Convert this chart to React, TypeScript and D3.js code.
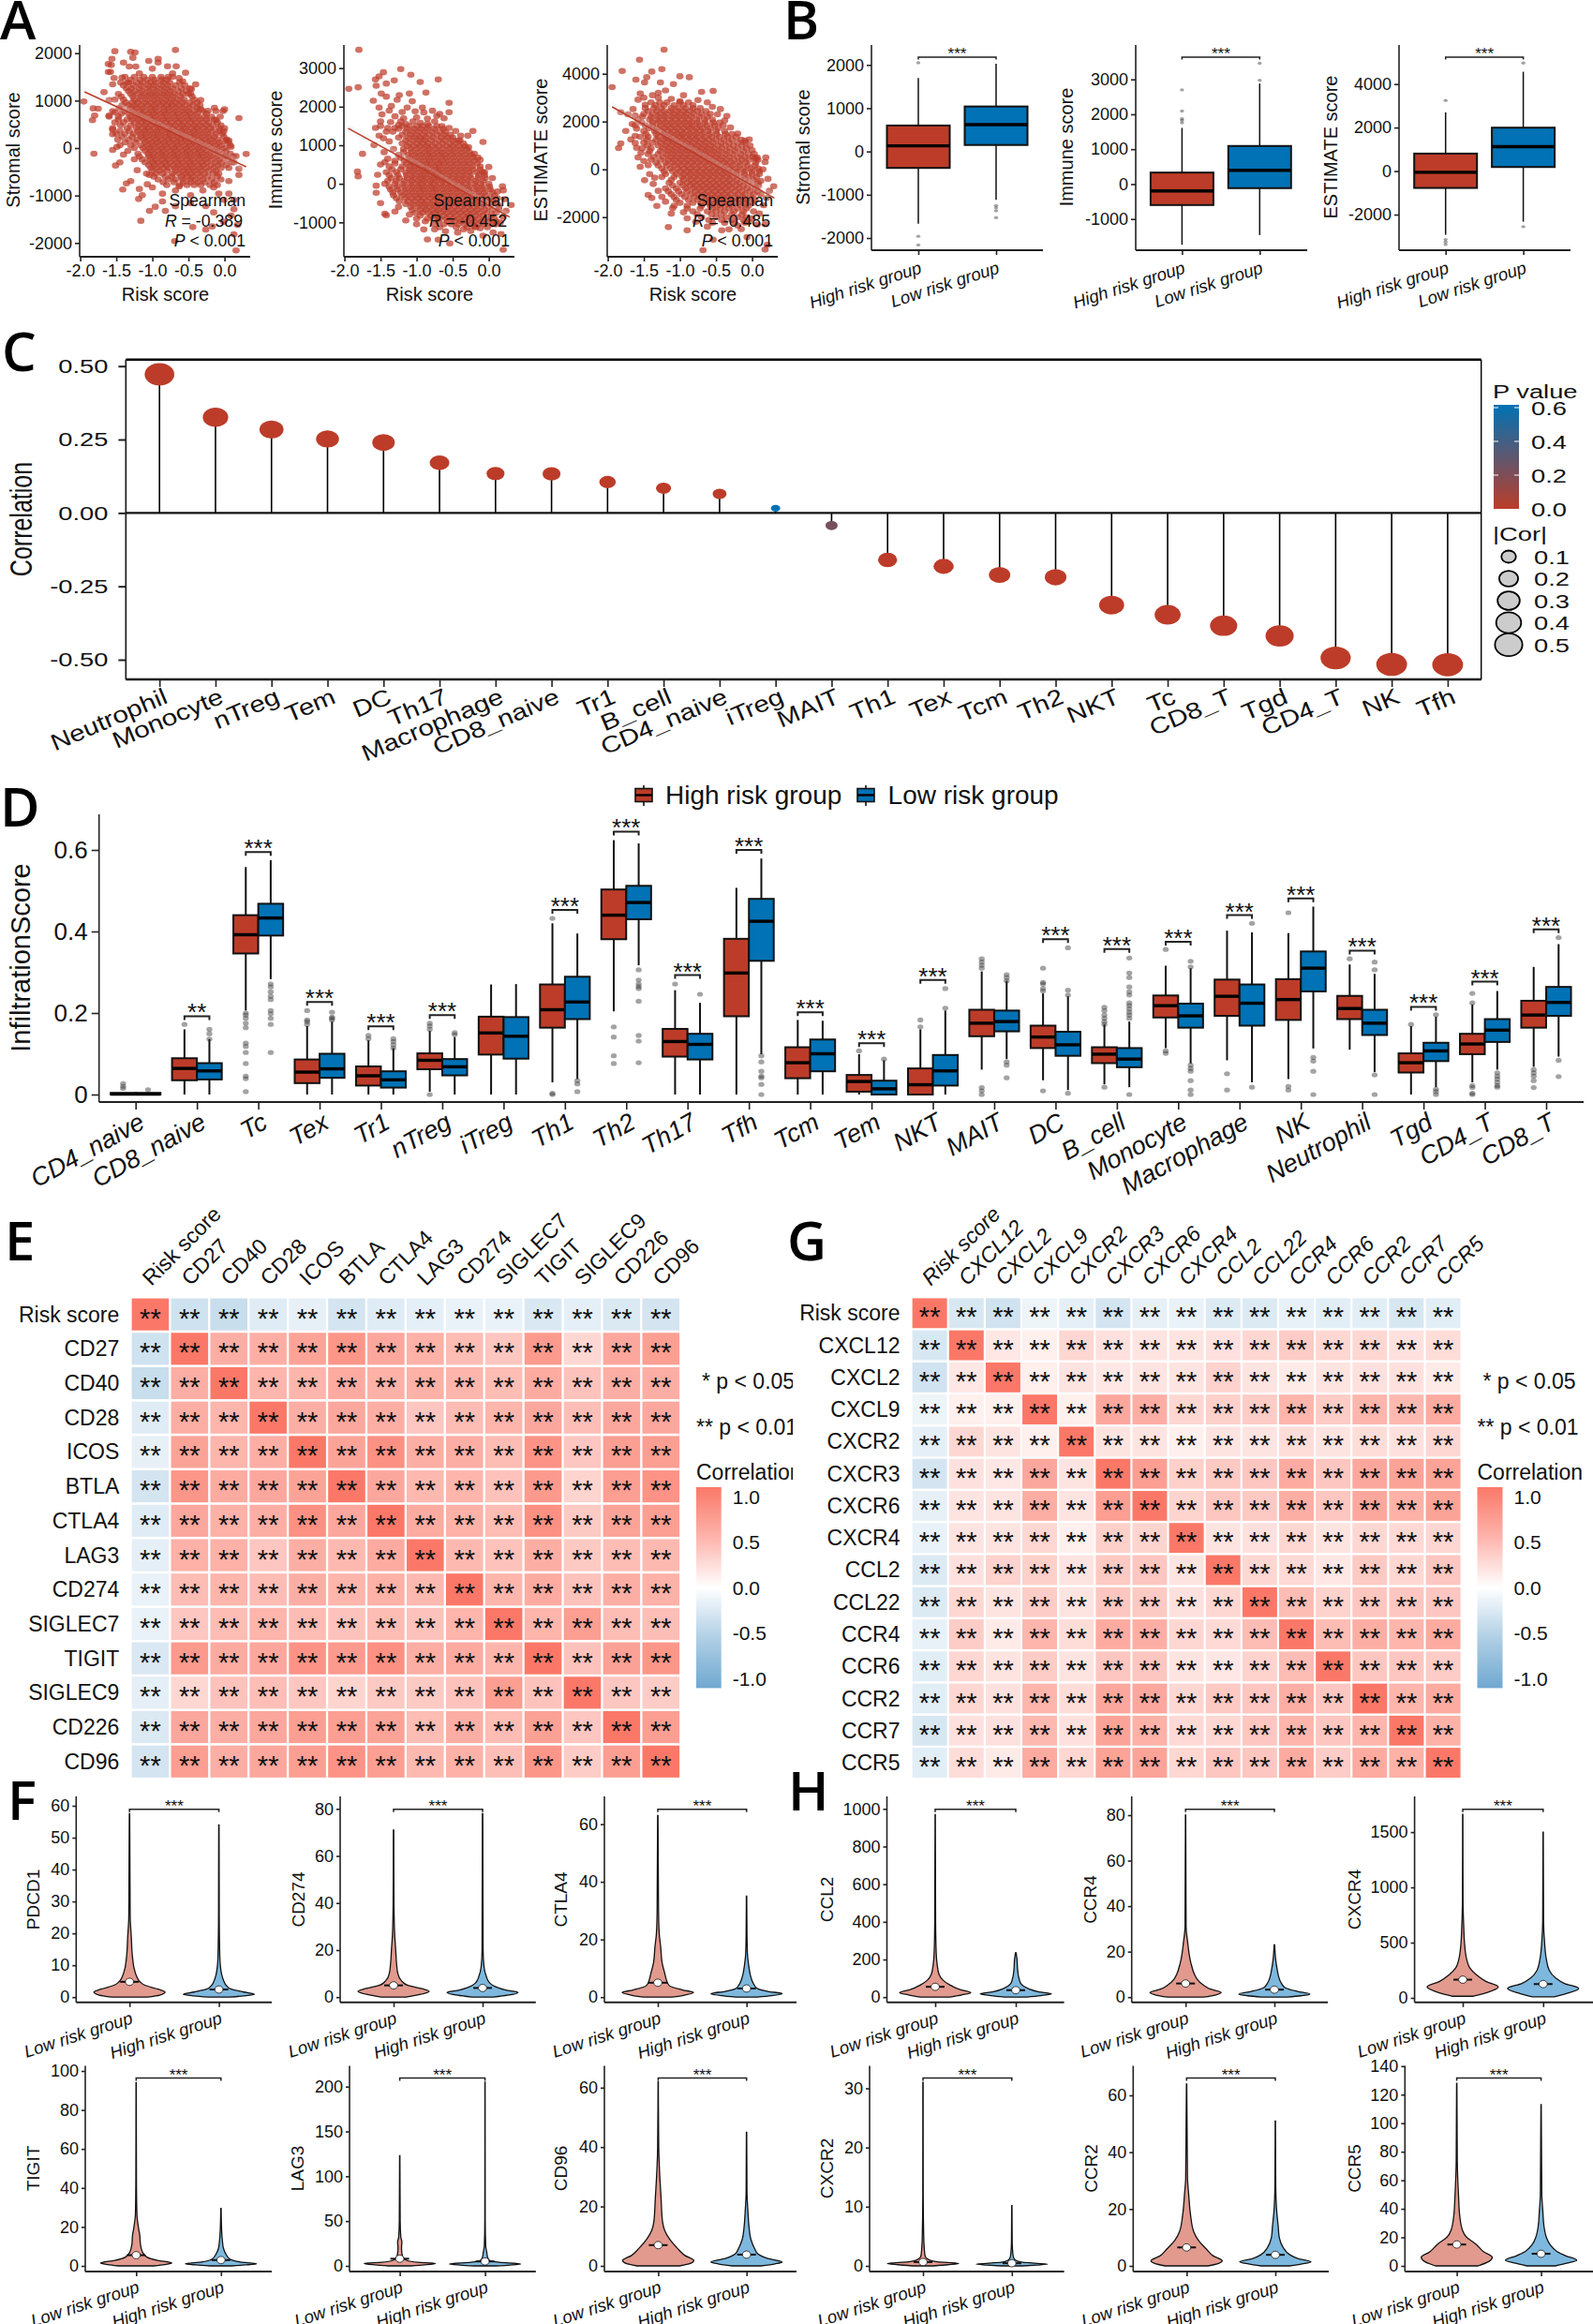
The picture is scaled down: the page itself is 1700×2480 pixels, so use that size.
import { useEffect, useRef } from "react"
import * as d3 from "d3"

const FONT = "'Liberation Sans', Arial, sans-serif"
const RED = "#BC3C29"
const BLUE = "#0072B5"

// ---- panel A : scatter points, [risk, score] for the loose points, rows [score, risks] for the dense cloud
const stromalLoose = [[-.68,2066],[-1.52,2040],[-1.3,2027],[-1.24,2013],[-1.56,1882],[-1.27,1902],[-1.05,1836],[-.92,1882],[-1.4,1803],[-1.61,1770],[-.92,1803],[-.79,1724],[-.67,1724],[-1.32,1717],[-1.23,1717],[-1.57,1750],[-1.61,1605],[-1.58,1605],[-1.42,1487],[-1.53,1474],[-.54,1586],[-.63,1474],[-1.67,1178],[-1.95,980],[-1.82,836],[-1.75,829],[-1.8,684],[-1.83,586],[.2,632],[-1.81,-118],[.3,-125],[-1.45,-303],[-1.51,-368],[-1.41,-875],[-1.3,-697],[-1.36,-744],[-1.19,-1073],[-1.18,-862],[-1,-829],[-1.14,-994],[-.63,-809],[-1.16,-1533],[-1.04,-1323],[-.96,-1237],[-.82,-1323],[-.68,-1224],[-.69,-1961],[.16,-2158],[.13,-1290],[-.01,-1553],[-.15,-1355],[-.44,-1665],[-.26,-1717],[-.17,-1652],[.13,-1816],[.18,-1619],[.09,-1421],[-.26,-1224],[-.47,-1158],[-.86,-1125],[-.08,-961],[.06,-961],[-.01,-1092],[.13,-1092],[.2,-434],[.13,-303],[.2,-566],[.06,-697],[.02,158],[.06,158],[0,816],[-.14,849],[-.33,816],[-.4,1342],[-.46,1243],
  [-1.55,1342],[-1.6,1013],[-1.52,750],[-1.6,684],[-1.55,388],[-1.55,290],[-1.49,26],[-1.55,-40],[-1.4,-138],[-1.25,-237],[-1.21,-467],[-1.04,-566],[-1.07,-763],[-.86,-961],[-.68,-895],[-.47,-994],[-.3,-895],[-.15,-829],[.02,-171],[.09,26],[.16,-171],[-.01,355],[-.12,586],[-.23,783],[-.33,1013],[-.47,1145],[-.58,1408],[-.72,1573],[-1,1671],[-1.18,1573],[-1.35,1375]]
const stromalCloud: [number, number[]][] = [
  [1500,[-1.38,-1.25,-1.12,-1,-.88,-.78,-.72]],
  [1440,[-1.3,-1.17,-1.07,-.97,-.87,-.8]],
  [1380,[-1.44,-1.33,-1.22,-1.13,-1.03,-.95,-.85,-.76,-.62]],
  [1320,[-1.4,-1.26,-1.16,-1.06,-.98,-.88,-.79,-.68,-.55]],
  [1260,[-1.36,-1.29,-1.18,-1.08,-.99,-.9,-.81,-.72,-.6,-.48]],
  [1200,[-1.33,-1.24,-1.14,-1.04,-.94,-.84,-.75,-.64,-.53]],
  [1140,[-1.47,-1.3,-1.21,-1.12,-1.03,-.95,-.86,-.78,-.69,-.58,-.5]],
  [1085,[-1.43,-1.27,-1.16,-1.07,-.98,-.89,-.8,-.71,-.61,-.45]],
  [1020,[-1.52,-1.4,-1.25,-1.17,-1.08,-.99,-.91,-.82,-.74,-.65,-.56,-.42]],
  [960,[-1.37,-1.28,-1.2,-1.1,-1.01,-.92,-.84,-.75,-.67,-.58,-.48,-.38]],
  [900,[-1.42,-1.33,-1.24,-1.15,-1.06,-.97,-.88,-.8,-.72,-.63,-.54,-.44,-.34]],
  [845,[-1.46,-1.3,-1.22,-1.13,-1.03,-.95,-.85,-.77,-.68,-.59,-.49,-.38]],
  [780,[-1.55,-1.38,-1.27,-1.18,-1.1,-1.01,-.93,-.84,-.76,-.67,-.58,-.5,-.41,-.3,-.12,-.02]],
  [725,[-1.43,-1.33,-1.24,-1.15,-1.06,-.98,-.89,-.81,-.72,-.64,-.55,-.47,-.38,-.25]],
  [660,[-1.6,-1.47,-1.3,-1.21,-1.13,-1.04,-.96,-.87,-.79,-.7,-.62,-.53,-.45,-.36,-.27,-.18,-.06]],
  [600,[-1.47,-1.35,-1.28,-1.19,-1.11,-1.02,-.94,-.85,-.77,-.68,-.6,-.51,-.43,-.34,-.25,-.14]],
  [540,[-1.52,-1.4,-1.25,-1.16,-1.08,-.99,-.91,-.82,-.74,-.65,-.57,-.48,-.4,-.31,-.22,-.1]],
  [480,[-1.44,-1.3,-1.19,-1.1,-1.02,-.93,-.85,-.76,-.68,-.59,-.51,-.42,-.34,-.25,-.16,-.05]],
  [420,[-1.55,-1.35,-1.22,-1.13,-1.05,-.96,-.88,-.79,-.71,-.62,-.54,-.45,-.37,-.28,-.19,-.08,0]],
  [360,[-1.45,-1.32,-1.2,-1.11,-1.03,-.94,-.86,-.77,-.69,-.6,-.52,-.43,-.35,-.26,-.17,-.07]],
  [300,[-1.5,-1.38,-1.26,-1.17,-1.09,-1,-.92,-.83,-.75,-.66,-.58,-.49,-.41,-.32,-.23,-.12,-.03]],
  [240,[-1.42,-1.28,-1.16,-1.08,-.99,-.91,-.82,-.74,-.65,-.57,-.48,-.4,-.31,-.22,-.14,-.01]],
  [180,[-1.48,-1.33,-1.21,-1.12,-1.04,-.95,-.87,-.78,-.7,-.61,-.53,-.44,-.36,-.27,-.18,-.09,.03]],
  [120,[-1.38,-1.24,-1.1,-1.01,-.93,-.84,-.76,-.67,-.59,-.5,-.42,-.33,-.25,-.16,-.07,.05]],
  [60,[-1.45,-1.3,-1.16,-1.07,-.99,-.9,-.82,-.73,-.65,-.56,-.48,-.39,-.31,-.22,-.13,-.04,.08]],
  [0,[-1.25,-1.13,-1.04,-.96,-.87,-.79,-.7,-.62,-.53,-.45,-.36,-.28,-.19,-.1,0]],
  [-60,[-1.34,-1.1,-1.02,-.93,-.85,-.76,-.68,-.59,-.51,-.42,-.34,-.25,-.16,-.08,.02]],
  [-120,[-1.2,-1.06,-.98,-.89,-.81,-.72,-.64,-.55,-.47,-.38,-.3,-.21,-.12,-.03,.08]],
  [-180,[-1.18,-1.05,-.97,-.88,-.8,-.71,-.63,-.54,-.46,-.37,-.29,-.2,-.1,0,.12]],
  [-240,[-1.14,-1.03,-.95,-.86,-.78,-.69,-.61,-.52,-.44,-.35,-.26,-.17,-.07,.05]],
  [-300,[-1.1,-1,-.92,-.83,-.75,-.66,-.58,-.49,-.41,-.32,-.24,-.13,-.04,.1]],
  [-360,[-1.05,-.97,-.88,-.8,-.71,-.63,-.54,-.46,-.37,-.29,-.19,-.09,.02]],
  [-420,[-1.02,-.94,-.85,-.77,-.68,-.6,-.51,-.43,-.34,-.25,-.15,-.05,.06]],
  [-480,[-1,-.9,-.8,-.68,-.58,-.5,-.41,-.32,-.22,-.12]],
  [-540,[-1.08,-.95,-.86,-.72,-.63,-.54,-.46,-.37,-.28,-.16,-.08]],
  [-600,[-.98,-.82,-.73,-.6,-.52,-.44,-.34,-.24,-.1]],
  [-660,[-.92,-.78,-.68,-.58,-.48,-.4,-.3,-.18,-.05]],
  [-720,[-.85,-.7,-.57,-.47,-.37,-.27,-.14]],
  [-780,[-.8,-.62,-.52,-.42,-.33,-.2,-.1]],
]
const immuneLoose = [[-1.8,3475],[-1.94,2462],[-1.81,2503],[-1.22,2973],[-1.08,2827],[-.7,2705],[-.95,2640],[-1.46,2892],[-1.52,2786],[-1.57,2705],[-1.31,2681],[-1.56,2543],[-1.42,2600],[-1.1,2340],[-.87,2365],[-.55,2098],[-1.6,2155],[-1.49,2340],[-1.42,2260],[-1.24,2300],[-1.27,2180],[-1.06,2140],[-1.52,1976],[-1.35,2017],[-1.13,1976],[-.92,1976],[-.78,1895],[-.55,1855],[-.68,1814],[-1.48,1800],[-1.3,1750],[-1.18,1700],[-1.0,1720],[-.85,1690],[-.22,1370],[-.46,1370],[-.08,1085],[-.39,1247],[-.29,1247],[-1.57,1450],[-1.59,1004],[-1.75,778],[-1.82,316],[-1.81,194],[-1.54,235],[-1.56,-49],[-1.56,-235],[-1.44,-778],[-1.42,-818],[.31,-551],[.19,-65],[.2,-170],[.2,-1709],[.17,-1304],[.06,-1264],[-.54,-1547],[-.7,-1450],[-.85,-1442],[-.9,-1183],[-.08,-1345],[-.25,-1223],[-.43,-1264],[0,437],[-.15,680],[-1.5,1620],[-1.4,1450],[-1.25,1530],[-.6,-1230],[-.2,-1100],[.1,-1050],
  [-1.5,1500],[-1.42,1350],[-1.36,1600],[-1.3,1450],[-1.22,1620],[-1.15,1550],[-1.05,1620],[-.95,1580],[-.85,1560],[-.75,1620],[-.65,1500],[-.55,1450],[-.62,1700],[-.72,1760],[-.9,1850],[-1.02,1880],[-1.2,1860],[-1.38,1900],[-1.46,1180],[-1.52,1250],[-1.38,1100],[-1.32,900],[-1.45,820],[-1.4,650],[-1.5,500],[-1.44,560],[-.42,1120],[-.28,950],[-.2,780],[-.12,620],[-.06,300],[.05,150],[.12,-200],[.22,-400],[.24,-700],[.2,-850],[.16,-1000],[-.12,-1150],[-.35,-1180],[-.75,-1180],[-1.1,-800],[-1.15,-950],[-1,-1050],[-1.3,-720],[-1.5,-500]]
const immuneCloud: [number, number[]][] = [
  [1500,[-1.2,-1.1,-1,-.92,-.83,-.72]],
  [1425,[-1.25,-1.13,-1.03,-.94,-.85,-.75,-.63]],
  [1350,[-1.33,-1.15,-1.06,-.97,-.88,-.78,-.68,-.6]],
  [1275,[-1.2,-1.09,-1,-.91,-.82,-.72,-.62,-.53]],
  [1200,[-1.25,-1.12,-1.03,-.95,-.87,-.77,-.66,-.57,-.5]],
  [1125,[-1.15,-1.05,-.96,-.88,-.79,-.69,-.6,-.5,-.4]],
  [1050,[-1.2,-1.1,-1,-.92,-.84,-.74,-.64,-.54,-.45,-.35]],
  [975,[-1.13,-1.04,-.95,-.86,-.78,-.69,-.59,-.5,-.41,-.33]],
  [900,[-1.18,-1.08,-.99,-.9,-.82,-.73,-.64,-.55,-.47,-.38,-.3]],
  [825,[-1.18,-1.07,-.98,-.89,-.81,-.72,-.64,-.55,-.46,-.37,-.27]],
  [750,[-1.25,-1.12,-1.03,-.94,-.85,-.77,-.68,-.6,-.51,-.42,-.33,-.24]],
  [675,[-1.22,-1.1,-1.01,-.92,-.83,-.75,-.66,-.58,-.49,-.4,-.31,-.22]],
  [600,[-1.3,-1.17,-1.08,-.99,-.9,-.82,-.73,-.65,-.56,-.47,-.38,-.29,-.2]],
  [525,[-1.3,-1.14,-1.05,-.96,-.87,-.79,-.7,-.62,-.53,-.44,-.35,-.26,-.16]],
  [450,[-1.38,-1.2,-1.1,-1.02,-.93,-.85,-.76,-.68,-.59,-.5,-.41,-.32,-.23,-.12]],
  [375,[-1.34,-1.22,-1.1,-1.01,-.92,-.84,-.75,-.67,-.58,-.49,-.4,-.31,-.22,-.12]],
  [300,[-1.42,-1.28,-1.15,-1.06,-.97,-.88,-.8,-.71,-.63,-.54,-.45,-.36,-.27,-.17,-.08]],
  [225,[-1.38,-1.26,-1.14,-1.05,-.96,-.88,-.79,-.71,-.62,-.53,-.44,-.35,-.26,-.14,-.06]],
  [150,[-1.35,-1.24,-1.13,-1.04,-.95,-.87,-.78,-.7,-.61,-.52,-.43,-.34,-.25,-.15,-.05]],
  [75,[-1.4,-1.28,-1.17,-1.07,-.98,-.9,-.81,-.73,-.64,-.55,-.46,-.37,-.28,-.18,-.08]],
  [0,[-1.44,-1.3,-1.19,-1.09,-1,-.92,-.83,-.75,-.66,-.57,-.48,-.39,-.3,-.2,-.11,0]],
  [-75,[-1.38,-1.27,-1.17,-1.07,-.98,-.9,-.81,-.73,-.64,-.55,-.46,-.37,-.28,-.18,-.09,.01]],
  [-150,[-1.36,-1.26,-1.15,-1.06,-.97,-.89,-.8,-.72,-.63,-.54,-.45,-.36,-.27,-.17,-.08,.02]],
  [-225,[-1.33,-1.22,-1.13,-1.04,-.95,-.87,-.78,-.7,-.61,-.52,-.43,-.34,-.25,-.15,-.06,.05]],
  [-300,[-1.32,-1.2,-1.11,-1.02,-.94,-.85,-.77,-.68,-.59,-.5,-.41,-.32,-.23,-.13,-.04,.08]],
  [-375,[-1.28,-1.16,-1.07,-.98,-.9,-.81,-.73,-.64,-.55,-.46,-.37,-.28,-.19,-.09,.02,.12]],
  [-450,[-1.24,-1.12,-1.03,-.94,-.86,-.77,-.69,-.6,-.51,-.42,-.33,-.24,-.15,-.05,.06]],
  [-525,[-1.15,-1.05,-.96,-.88,-.79,-.71,-.62,-.53,-.44,-.35,-.26,-.17,-.07,.04,.12]],
  [-600,[-1.25,-1.08,-.98,-.89,-.81,-.72,-.64,-.55,-.46,-.37,-.28,-.19,-.1,0,.14]],
  [-675,[-1.06,-.95,-.87,-.78,-.7,-.61,-.52,-.43,-.34,-.25,-.16,-.06,.05,.14]],
  [-750,[-1.02,-.92,-.84,-.75,-.67,-.58,-.49,-.4,-.31,-.22,-.13,-.03,.1]],
  [-825,[-.95,-.8,-.72,-.63,-.54,-.45,-.36,-.27,-.18,-.08,.04]],
  [-900,[-1,-.85,-.76,-.68,-.59,-.5,-.41,-.32,-.23,-.14,-.04,.08]],
  [-975,[-.88,-.7,-.57,-.47,-.38,-.29,-.2,-.1,0,.1]],
  [-1050,[-.75,-.62,-.52,-.42,-.33,-.24,-.15,-.06,.05]],
  [-1125,[-.68,-.45,-.3,-.18,-.02]],
]
const estimateLoose = [[-1.22,5006],[-1.56,4587],[-1.8,4117],[-1.25,4195],[-1.39,4091],[-1.61,3751],[-1.94,3437],[-1.46,3855],[-1.49,3633],[-1,3895],[-.87,3855],[-1.09,3568],[-1.27,3633],[-.54,3280],[-.7,3241],[-1.55,3176],[-1.58,2914],[-.35,2235],[-.44,2522],[-.55,2614],[-.04,1255],[-1.75,1608],[-1.82,2392],[-1.65,2522],[-1.82,1085],[-1.85,889],[-1.54,693],[-1.55,105],[-1.44,170],[-1.49,-457],[-1.37,-614],[-1.44,-1072],[-1.39,-1202],[-1.32,-1529],[-1.16,-2418],[-.9,-2549],[-.68,-3385],[-.54,-2941],[-.32,-2509],[.18,-3359],[.21,-3163],[.3,-706],[.19,497],[.07,497],[.12,-484],[-.07,-2836],[.07,-2313],[.18,-2300],[-1.5,3000],[-1.38,3100],[-1.3,3200],[-1.2,3300],[-.95,3100],[-.05,-2200],[-.15,-2500],
  [-1.72,2300],[-1.62,2250],[-1.66,1900],[-1.6,1700],[-1.62,1400],[-1.68,1250],[-1.62,1100],[-1.6,900],[-1.58,500],[-1.5,350],[-1.42,-200],[-1.35,-350],[-1.3,-900],[-1.25,-1150],[-1.2,-1350],[-1.1,-1620],[-1.12,-1850],[-.95,-1800],[-.9,-2050],[-.78,-2200],[-.62,-2400],[-.42,-2550],[-.2,-2350],[0,-2050],[.1,-1850],[.16,-1500],[.2,-1200],[.24,-900],[.22,-400],[.15,0],[.18,300],[.05,450],[0,800],[-.1,1200],[-.2,1500],[-.3,1750],[-.38,2050],[-.48,2300],[-.62,2800],[-.75,2900],[-1,2850],[-1.12,2950],[-1.3,3000],[-1.48,2700]]
const estimateCloud: [number, number[]][] = [
  [2800,[-1.4,-1.28,-1.18,-1,-.88]],
  [2680,[-1.34,-1.22,-1.08,-.95,-.82]],
  [2560,[-1.48,-1.36,-1.26,-1.12,-1.02,-.92,-.82,-.72]],
  [2440,[-1.44,-1.32,-1.22,-1.13,-1.04,-.95,-.86,-.76,-.64]],
  [2320,[-1.5,-1.38,-1.28,-1.19,-1.09,-1,-.91,-.81,-.7,-.58]],
  [2200,[-1.52,-1.4,-1.3,-1.21,-1.11,-1.02,-.93,-.84,-.73,-.62]],
  [2080,[-1.58,-1.42,-1.32,-1.23,-1.14,-1.05,-.96,-.87,-.77,-.66,-.55]],
  [1960,[-1.53,-1.38,-1.29,-1.2,-1.11,-1.02,-.93,-.84,-.75,-.65,-.54,-.45]],
  [1840,[-1.62,-1.48,-1.38,-1.27,-1.18,-1.09,-1,-.91,-.83,-.73,-.63,-.52,-.4]],
  [1720,[-1.43,-1.32,-1.22,-1.13,-1.04,-.95,-.86,-.77,-.68,-.58,-.47]],
  [1600,[-1.5,-1.35,-1.25,-1.16,-1.07,-.98,-.89,-.8,-.71,-.61,-.5,-.38]],
  [1480,[-1.47,-1.33,-1.22,-1.13,-1.04,-.96,-.87,-.78,-.69,-.59,-.49,-.37,-.28]],
  [1360,[-1.55,-1.44,-1.3,-1.2,-1.11,-1.02,-.94,-.85,-.76,-.66,-.56,-.45,-.34,-.22]],
  [1240,[-1.46,-1.33,-1.23,-1.14,-1.05,-.96,-.87,-.78,-.69,-.6,-.5,-.39,-.28,-.15]],
  [1120,[-1.5,-1.38,-1.27,-1.18,-1.09,-1,-.91,-.82,-.73,-.64,-.54,-.43,-.32,-.2,-.1]],
  [1000,[-1.45,-1.3,-1.2,-1.11,-1.02,-.93,-.84,-.75,-.66,-.57,-.47,-.37,-.26,-.14,-.03]],
  [880,[-1.52,-1.4,-1.24,-1.15,-1.06,-.97,-.88,-.79,-.7,-.61,-.52,-.42,-.31,-.2,-.08]],
  [760,[-1.42,-1.27,-1.17,-1.08,-.99,-.9,-.81,-.72,-.63,-.54,-.45,-.35,-.24,-.12]],
  [640,[-1.44,-1.3,-1.19,-1.1,-1.01,-.92,-.83,-.74,-.65,-.56,-.47,-.37,-.27,-.16,-.05,.03]],
  [520,[-1.36,-1.23,-1.13,-1.04,-.95,-.86,-.77,-.68,-.59,-.5,-.41,-.31,-.2,-.1,.01]],
  [400,[-1.4,-1.27,-1.16,-1.07,-.98,-.89,-.8,-.71,-.62,-.53,-.44,-.35,-.25,-.14,-.04,.08]],
  [280,[-1.33,-1.2,-1.1,-1.01,-.92,-.83,-.74,-.65,-.56,-.47,-.38,-.29,-.19,-.09,.05]],
  [160,[-1.3,-1.18,-1.08,-.99,-.9,-.81,-.72,-.63,-.54,-.45,-.36,-.27,-.17,-.06,.04]],
  [40,[-1.25,-1.13,-1.03,-.94,-.85,-.76,-.67,-.58,-.49,-.4,-.31,-.22,-.12,-.02,.08]],
  [-80,[-1.22,-1.1,-1,-.91,-.83,-.74,-.65,-.56,-.47,-.38,-.29,-.2,-.1,0,.1]],
  [-200,[-1.2,-1.05,-.95,-.86,-.77,-.68,-.59,-.5,-.41,-.32,-.22,-.11,0,.1]],
  [-320,[-1.25,-1.08,-.97,-.88,-.79,-.7,-.61,-.52,-.43,-.34,-.25,-.15,-.05,.06]],
  [-440,[-1.12,-.95,-.85,-.76,-.67,-.58,-.49,-.4,-.31,-.21,-.1,.02]],
  [-560,[-1.15,-1,-.9,-.81,-.72,-.63,-.54,-.45,-.36,-.27,-.17,-.06,.08]],
  [-680,[-1.1,-.96,-.86,-.77,-.68,-.59,-.5,-.41,-.32,-.22,-.12,0,.09]],
  [-800,[-1.2,-1.05,-.92,-.82,-.73,-.64,-.55,-.46,-.37,-.28,-.18,-.07,.05]],
  [-920,[-1.16,-1.02,-.9,-.79,-.7,-.61,-.52,-.43,-.34,-.24,-.14,-.03,.08]],
  [-1040,[-1.12,-.98,-.85,-.75,-.66,-.57,-.48,-.39,-.3,-.2,-.1,.02,.12]],
  [-1160,[-1.08,-.93,-.8,-.7,-.6,-.51,-.42,-.33,-.23,-.13,-.02]],
  [-1280,[-1.05,-.88,-.75,-.64,-.55,-.46,-.37,-.28,-.18,-.08,.04]],
  [-1400,[-1,-.82,-.7,-.6,-.5,-.4,-.3,-.2,-.1,0]],
  [-1520,[-1.08,-.9,-.7,-.58,-.48,-.38,-.28,-.15,-.05]],
  [-1640,[-.9,-.72,-.55,-.44,-.32,-.2,-.08]],
  [-1760,[-.82,-.62,-.5,-.38,-.25,-.12,.02]],
  [-1880,[-.76,-.56,-.43,-.28,-.14]],
  [-2000,[-.7,-.5,-.36,-.2,-.08]],
  [-2120,[-.6,-.42,-.28,-.12]],
  [-2240,[-.55,-.38,-.24,-.1]],
]
const stromalFit = [[-1.94,1185,110],[-.8,450,35],[.3,-395,110]]
const immuneFit = [[-1.95,1440,110],[-.8,370,35],[.29,-860,110]]
const estimateFit = [[-1.94,2615,200],[-.8,820,70],[.31,-1204,200]]

// ---- panel B : [q1, median, q3, whisker low, whisker high]
const stromalBoxes = [[-380,130,600,-1670,1700],[150,620,1040,-1120,2030]]
const stromalOut = [[2050,-1960,-2160],[-1250,-1300,-1370,-1530]]
const immuneBoxes = [[-600,-197,330,-1736,1610],[-116,394,1092,-1459,2880]]
const immuneOut = [[2700,2094,1870,1825,1754],[2970,3463]]
const estimateBoxes = [[-775,-57,804,-2930,2700],[187,1120,1996,-2326,4565]]
const estimateOut = [[3245,-3145,-3260,-3375],[-2556,4967]]

// ---- panel C
const lolliNames = ["Neutrophil","Monocyte","nTreg","Tem","DC","Th17","Macrophage","CD8_naive","Tr1","B_cell","CD4_naive","iTreg","MAIT","Th1","Tex","Tcm","Th2","NKT","Tc","CD8_T","Tgd","CD4_T","NK","Tfh"]
const lolliCor = [.472,.326,.284,.252,.24,.171,.134,.133,.105,.084,.065,.016,-.043,-.16,-.182,-.211,-.219,-.314,-.347,-.384,-.419,-.494,-.516,-.517]
const lolliP = [0,0,0,0,0,0,0,0,0,0,0,.6,.22,0,0,0,0,0,0,0,0,0,0,0]
const pTicks = [0,.2,.4,.6]
const corLegend = [.1,.2,.3,.4,.5]

// ---- panel D
const cellNames = ["CD4_naive","CD8_naive","Tc","Tex","Tr1","nTreg","iTreg","Th1","Th2","Th17","Tfh","Tcm","Tem","NKT","MAIT","DC","B_cell","Monocyte","Macrophage","NK","Neutrophil","Tgd","CD4_T","CD8_T"]
const highBoxes = [[0,.001,.004,0,.004],[.035,.064,.089,0,.16],[.346,.392,.44,.206,.558],[.028,.055,.086,0,.168],[.022,.046,.069,0,.133],[.062,.084,.101,.007,.156],[.098,.151,.191,0,.27],[.164,.208,.27,.03,.42],[.381,.44,.503,.204,.624],[.093,.13,.161,0,.256],[.192,.298,.382,0,.507],[.04,.078,.116,0,.183],[.007,.032,.048,0,.099],[0,.024,.064,0,.16],[.143,.175,.208,.061,.302],[.114,.141,.169,.035,.248],[.077,.099,.116,.025,.172],[.189,.218,.243,.114,.316],[.193,.241,.282,.084,.402],[.183,.233,.283,.038,.396],[.185,.211,.242,.11,.319],[.054,.078,.101,0,.168],[.099,.124,.149,.03,.221],[.164,.195,.23,.068,.313]]
const lowBoxes = [[0,.001,.004,0,.004],[.037,.058,.077,0,.136],[.39,.433,.468,.283,.575],[.041,.063,.1,0,.179],[.017,.036,.057,0,.114],[.047,.068,.087,0,.141],[.088,.143,.19,0,.271],[.185,.227,.289,.038,.395],[.43,.471,.512,.317,.616],[.086,.123,.149,0,.225],[.328,.425,.48,.099,.579],[.057,.1,.135,0,.181],[0,.014,.034,0,.084],[.022,.058,.097,0,.206],[.155,.179,.206,.087,.279],[.095,.122,.154,.011,.241],[.067,.087,.114,.018,.179],[.164,.193,.223,.076,.31],[.169,.224,.27,.03,.398],[.253,.31,.351,.113,.461],[.146,.175,.208,.055,.296],[.082,.107,.127,.018,.191],[.129,.158,.185,.061,.254],[.193,.226,.264,.093,.369]]
const highOut = [[.027,.02,.015],[.172],[.2,.195,.187,.175,.164,.126,.118,.103,.076,.045,.039,.007],[.206,.183,.179,.172],[.145,.137],[.175,.168,.16,0],[],[.432,.003,0],[.166,.141,.095,.076],[.271],[],[],[.107],[.183,.166],[.333,.325,.317,.31,.017,.009,0],[.31,.275,.271,.26,.254,.009],[.214,.206,.195,.187,.179,.172,.018],[.356,.107,.101],[.051,.011],[.446,.02,.011],[.333],[.172],[.248,.225,.022,.017,.003,0],[.061,.053,.045,.034,.017]]
const lowOut = [[.012],[.16,.149,.136],[.271,.264,.252,.241,.233,.206,.198,.187,.172,.103],[.202,.19,.187,.183],[.137,.13,.122,.114],[.152,.147],[],[.034,.026,.007],[.306,.281,.271,.265,.26,.229,.145,.131,.078],[.246],[.095,.08,.057,.045,.041,.025,0],[],[.087],[.26,.212],[.294,.287,.279,.08,.072,.041],[.36,.256,.244,.003],[.335,.298,.287,.264,.252,.244,.225,.218,.21,.202,.195,.187,0],[.327,.313,.072,.064,.057,.034,.011,0],[.42,.018],[.091,.082,.057,0],[.325,.306,.048,0],[.196,.013,.007,0],[.053,.045,.038,.03,.022,.018],[.385,.084,.044]]
const cellSig = ["","**","***","***","***","***","","***","***","***","***","***","***","***","","***","***","***","***","***","***","***","***","***"]
const cellBracket = [0,.192,.595,.227,.167,.195,0,.453,.645,.293,.6,.202,.126,.281,0,.381,.357,.375,.44,.481,.353,.215,.277,.405]

// ---- panels E and G
const immuneGenes = ["Risk score","CD27","CD40","CD28","ICOS","BTLA","CTLA4","LAG3","CD274","SIGLEC7","TIGIT","SIGLEC9","CD226","CD96"]
const immuneCor = [
  [1,-.33,-.38,-.22,-.17,-.3,-.22,-.18,-.15,-.15,-.26,-.18,-.25,-.3],
  [-.33,1,.6,.6,.68,.78,.65,.58,.5,.42,.75,.3,.65,.72],
  [-.38,.6,1,.55,.55,.62,.58,.58,.55,.5,.62,.45,.6,.6],
  [-.22,.6,.55,1,.6,.65,.6,.42,.5,.55,.65,.48,.65,.65],
  [-.17,.68,.55,.6,1,.68,.82,.6,.6,.5,.8,.42,.72,.72],
  [-.3,.78,.62,.65,.68,1,.65,.52,.55,.45,.75,.32,.72,.8],
  [-.22,.65,.58,.6,.82,.65,1,.62,.58,.5,.82,.4,.68,.72],
  [-.18,.58,.58,.42,.6,.52,.62,1,.52,.45,.6,.4,.5,.52],
  [-.15,.5,.55,.5,.6,.55,.58,.52,1,.55,.62,.45,.6,.58],
  [-.15,.42,.5,.55,.5,.45,.5,.45,.55,1,.55,.72,.5,.48],
  [-.26,.75,.62,.65,.8,.75,.82,.6,.62,.55,1,.45,.7,.78],
  [-.18,.3,.45,.48,.42,.32,.4,.4,.45,.72,.45,1,.42,.38],
  [-.25,.65,.6,.65,.72,.72,.68,.5,.6,.5,.7,.42,1,.72],
  [-.3,.72,.6,.65,.72,.8,.72,.52,.58,.48,.78,.38,.72,1],
]
const chemoGenes = ["Risk score","CXCL12","CXCL2","CXCL9","CXCR2","CXCR3","CXCR6","CXCR4","CCL2","CCL22","CCR4","CCR6","CCR2","CCR7","CCR5"]
const chemoCor = [
  [1,-.27,-.32,-.12,-.18,-.3,-.17,-.15,-.24,-.24,-.16,-.2,-.2,-.28,-.2],
  [-.27,1,.18,.12,.3,.22,.2,.2,.22,.3,.38,.3,.3,.22,.25],
  [-.32,.18,1,.12,.2,.18,.2,.2,.33,.2,.15,.2,.22,.22,.15],
  [-.12,.12,.12,1,.12,.65,.6,.3,.35,.38,.55,.38,.55,.52,.62],
  [-.18,.3,.2,.12,1,.2,.2,.12,.2,.2,.25,.2,.25,.22,.3],
  [-.3,.22,.18,.65,.2,1,.72,.35,.4,.42,.62,.42,.65,.68,.68],
  [-.17,.2,.2,.6,.2,.72,1,.32,.42,.4,.6,.42,.65,.58,.68],
  [-.15,.2,.2,.3,.12,.35,.32,1,.2,.22,.3,.2,.3,.28,.3],
  [-.24,.22,.33,.35,.2,.4,.42,.2,1,.3,.28,.18,.4,.3,.42],
  [-.24,.3,.2,.38,.2,.42,.4,.22,.3,1,.5,.33,.42,.42,.42],
  [-.16,.38,.15,.55,.25,.62,.6,.3,.28,.5,1,.5,.6,.55,.62],
  [-.2,.3,.2,.38,.2,.42,.42,.2,.18,.33,.5,1,.42,.42,.38],
  [-.2,.3,.22,.55,.25,.65,.65,.3,.4,.42,.6,.42,1,.55,.62],
  [-.28,.22,.22,.52,.22,.68,.58,.28,.3,.42,.55,.42,.55,1,.58],
  [-.2,.25,.15,.62,.3,.68,.68,.3,.42,.42,.62,.38,.62,.58,1],
]
const heatTicks = [-1,-.5,0,.5,1]

// ---- panels F and H : violin outlines as [value, relative density]
const pdcd1Low = [[0,.5],[.6,.85],[1.6,1],[2.5,.8],[3.8,.42],[5,.28],[6.5,.2],[9,.13],[13,.08],[19,.05],[25,.02],[35,.015],[57.5,.005]]
const pdcd1High = [[0,.3],[.4,.7],[.9,1],[1.6,.7],[2.5,.35],[3.5,.22],[5,.14],[7,.08],[10,.04],[13,.025],[25,.01],[54,.005]]
const cd274Low = [[0,.35],[1,.7],[2.5,1],[3.6,.8],[5,.4],[7,.22],[10,.12],[15,.08],[20,.06],[27,.03],[40,.012],[71,.005]]
const cd274High = [[0,.3],[.8,.7],[2,1],[3,.65],[4.5,.35],[6,.2],[9,.1],[13,.04],[20,.015],[78,.005]]
const ctla4Low = [[0,.4],[.7,.75],[1.6,1],[2.5,.7],[4,.32],[6,.24],[8,.2],[12,.12],[17.5,.08],[22,.04],[30,.02],[63,.005]]
const ctla4High = [[0,.3],[.5,.7],[1.2,1],[2,.6],[3,.3],[5,.18],[8,.1],[11,.06],[15,.025],[22,.012],[35,.005]]
const tigitLow = [[0,.5],[.7,.8],[1.5,1],[2.8,.6],[4.5,.3],[7,.18],[11,.12],[16,.1],[19,.07],[27,.02],[45,.008],[94,.004]]
const tigitHigh = [[0,.3],[.5,.7],[1.1,1],[2,.55],[3.5,.25],[6,.14],[9,.07],[13,.04],[18,.02],[29.5,.005]]
const lag3Low = [[0,.3],[1.2,.7],[2.7,1],[4,.5],[6,.2],[9,.1],[14,.06],[20,.05],[27,.06],[32,.03],[50,.012],[123,.004]]
const lag3High = [[0,.3],[1,.7],[2.2,1],[4,.4],[6,.13],[10,.07],[15,.05],[22,.02],[50,.006],[205,.003]]
const cd96Low = [[0,.6],[.8,.9],[1.8,1],[3.5,.75],[5.8,.55],[9,.32],[12,.18],[15,.12],[23,.08],[29,.05],[40,.015],[62,.004]]
const cd96High = [[0,.4],[.7,.8],[1.3,1],[2.5,.6],[4,.32],[6,.22],[9,.12],[13,.07],[18,.04],[25,.012],[45,.004]]
const ccl2Low = [[0,.4],[12,.75],[24,1],[40,.7],[64,.42],[90,.22],[120,.11],[175,.055],[230,.03],[400,.012],[970,.004]]
const ccl2High = [[0,.3],[8,.7],[17,1],[28,.65],[45,.35],[70,.15],[100,.09],[150,.05],[200,.035],[235,.01]]
const ccr4Low = [[0,.5],[1,.85],[2,1],[3.5,.7],[5.3,.5],[8,.32],[10,.25],[15,.15],[19,.1],[24,.06],[31,.015],[80,.004]]
const ccr4High = [[0,.35],[.6,.75],[1.3,1],[2.5,.65],[4,.32],[6,.2],[9,.12],[12,.08],[16,.04],[23,.008]]
const cxcr4Low = [[15,.3],[50,.7],[100,1],[150,.65],[210,.38],[270,.2],[336,.12],[494,.05],[620,.03],[900,.008],[1660,.004]]
const cxcr4High = [[10,.3],[40,.65],[85,1],[130,.6],[180,.35],[250,.17],[350,.09],[500,.04],[700,.012],[1500,.004]]
const cxcr2Low = [[0,.3],[.2,.7],[.4,1],[.7,.4],[1,.18],[1.5,.07],[2,.05],[5,.02],[12,.006],[31,.004]]
const cxcr2High = [[0,.3],[.15,.7],[.3,1],[.6,.3],[.9,.12],[1.4,.05],[2,.03],[4,.01],[10.2,.004]]
const ccr2Low = [[0,.6],[.9,.9],[1.8,1],[3.5,.75],[6,.55],[9,.33],[12,.2],[18,.11],[25,.06],[31,.025],[64,.004]]
const ccr2High = [[0,.4],[.7,.75],[1.4,1],[2.5,.65],[4,.4],[6.5,.22],[10,.11],[14,.08],[19,.04],[28,.012],[51,.004]]
const ccr5Low = [[0,.6],[3,.9],[6,1],[10,.75],[15,.55],[20,.28],[25,.16],[36,.08],[49,.05],[73,.015],[128,.004]]
const ccr5High = [[0,.4],[2,.75],[4,1],[7,.7],[10,.45],[15,.25],[20,.15],[28,.08],[38,.05],[50,.02],[113,.004]]

type Sel = d3.Selection<any, any, any, any>

function label(svg: Sel, s: string, x: number, y: number, size: number, o: any = {}) {
  const sx = o.sx ?? 1
  return svg.append("text").text(s)
    .attr("transform", `translate(${x},${y}) scale(${sx},1) rotate(${o.rot ?? 0})`)
    .attr("font-family", o.family ?? FONT).attr("font-size", size)
    .attr("font-style", o.italic ? "italic" : "normal")
    .attr("font-weight", o.weight ?? "normal")
    .attr("text-anchor", o.anchor ?? "start").attr("fill", o.fill ?? "#111")
}

function panelLetter(svg: Sel, s: string, x: number, y: number) {
  label(svg, s, x, y, 58, { family: "'Open Sans', sans-serif", weight: 600, fill: "#000" })
}

function lin(v0: number, p0: number, v1: number, p1: number) {
  return d3.scaleLinear().domain([v0, v1]).range([p0, p1])
}

function leftAxis(svg: Sel, x: number, y: any, ticks: number[], top: number, bottom: number, size: number, o: any = {}) {
  const g = svg.append("g").attr("transform", `translate(${x},0)`)
  g.call(d3.axisLeft(y).tickValues(ticks).tickSize(o.tick ?? 5).tickPadding(o.pad ?? 3).tickFormat(o.fmt ?? ((d: any) => String(d))))
  g.select(".domain").attr("d", `M0,${top}V${bottom}`).attr("stroke", "#222").attr("stroke-width", o.sw ?? 1.6)
  g.selectAll("line").attr("stroke", "#222").attr("stroke-width", 1.6)
  g.selectAll("text").attr("font-size", size).attr("font-family", FONT).attr("fill", "#111")
  return g
}

function bottomAxis(svg: Sel, x: any, y: number, left: number, right: number, size: number, o: any = {}) {
  const g = svg.append("g").attr("transform", `translate(0,${y})`)
  const ax = d3.axisBottom(x).tickSize(o.tick ?? 5).tickSizeOuter(0)
  if (o.ticks) ax.tickValues(o.ticks)
  if (o.fmt) ax.tickFormat(o.fmt)
  g.call(ax)
  g.select(".domain").attr("d", `M${left},0H${right}`).attr("stroke", "#222").attr("stroke-width", o.sw ?? 2)
  g.selectAll("line").attr("stroke", "#222").attr("stroke-width", 1.6)
  const t = g.selectAll("text").attr("font-size", size).attr("font-family", FONT).attr("fill", "#111")
  if (o.rot) {
    t.attr("x", 0).attr("y", 0).attr("dy", 0).attr("text-anchor", "end").attr("font-style", "italic")
      .attr("transform", `translate(${o.dx},${o.dy}) scale(${o.sx ?? 1},1) rotate(${o.rot})`)
  }
  return g
}

function bracket(svg: Sel, x0: number, x1: number, y: number, stars: string, size: number, up: number, drop = 3, sw = 1.5) {
  svg.append("path").attr("d", `M${x0},${y + drop}V${y}H${x1}V${y + drop}`)
    .attr("fill", "none").attr("stroke", "#222").attr("stroke-width", sw)
  label(svg, stars, (x0 + x1) / 2, y + up, size, { anchor: "middle" })
}

function drawBox(svg: Sel, cx: number, w: number, b: number[], out: number[], y: any, fill: string, o: any) {
  const [q1, med, q3, lo, hi] = b
  svg.append("line").attr("x1", cx).attr("x2", cx).attr("y1", y(lo)).attr("y2", y(hi)).attr("stroke", "#111").attr("stroke-width", o.wsk)
  svg.selectAll(null).data(out).enter().append("ellipse")
    .attr("cx", cx).attr("cy", (d: number) => y(d)).attr("rx", o.rx).attr("ry", o.ry)
    .attr("fill", "#333").attr("opacity", .45)
  svg.append("rect").attr("x", cx - w / 2).attr("width", w).attr("y", y(q3)).attr("height", Math.max(y(q1) - y(q3), 1))
    .attr("fill", fill).attr("stroke", "#111").attr("stroke-width", o.sw)
  svg.append("line").attr("x1", cx - w / 2).attr("x2", cx + w / 2).attr("y1", y(med)).attr("y2", y(med)).attr("stroke", "#000").attr("stroke-width", o.med)
}

function drawScatter(svg: Sel, ax: any) {
  const x = lin(-2, ax.left + .6, 0, ax.left + 154.6)
  const y = ax.y
  const pts: number[][] = [...ax.loose]
  ax.cloud.forEach(([v, xs]: [number, number[]]) => xs.forEach(r => pts.push([r, v])))
  svg.append("g").selectAll("ellipse").data(pts).enter().append("ellipse")
    .attr("cx", d => x(d[0])).attr("cy", d => y(d[1])).attr("rx", 3.9).attr("ry", 3.3)
    .attr("fill", RED).attr("opacity", .72)
  const band = d3.area<number[]>().x(d => x(d[0])).y0(d => y(d[1] - d[2])).y1(d => y(d[1] + d[2]))
  svg.append("path").attr("d", band(ax.fit)).attr("fill", "#d9d9d9").attr("opacity", .22)
  svg.append("line").attr("x1", x(ax.fit[0][0])).attr("y1", y(ax.fit[0][1])).attr("x2", x(ax.fit[2][0])).attr("y2", y(ax.fit[2][1]))
    .attr("stroke", RED).attr("stroke-width", 1.5)
  leftAxis(svg, ax.left, y, ax.ticks, 48, 274, 18)
  bottomAxis(svg, x, 274, ax.left, ax.left + 182, 18, { ticks: [-2, -1.5, -1, -.5, 0], fmt: (d: number) => d.toFixed(1) })
  label(svg, "Risk score", ax.left + 91.5, 321, 20, { anchor: "middle" })
  label(svg, ax.title, ax.titleX, 160, 20, { rot: -90, anchor: "middle" })
  const tx = ax.left + 177
  label(svg, "Spearman", tx, 220, 17.7, { anchor: "end" })
  const r = label(svg, "", tx - 3, 241.7, 17.7, { anchor: "end" })
  r.append("tspan").attr("font-style", "italic").text("R")
  r.append("tspan").text(" = " + ax.r)
  const p = label(svg, "", tx, 263, 17.7, { anchor: "end" })
  p.append("tspan").attr("font-style", "italic").text("P")
  p.append("tspan").text(" < 0.001")
}

function drawBoxPanel(svg: Sel, ax: any) {
  const x = d3.scalePoint<string>().domain(["High risk group", "Low risk group"]).range([ax.c0, ax.c1])
  const st = { wsk: 1.5, sw: 2, med: 3.4, rx: 2.2, ry: 1.7 }
  drawBox(svg, ax.c0, 67, ax.boxes[0], ax.out[0], ax.y, RED, st)
  drawBox(svg, ax.c1, 67, ax.boxes[1], ax.out[1], ax.y, BLUE, st)
  leftAxis(svg, ax.left, ax.y, ax.ticks, 48, 267, 18)
  bottomAxis(svg, x, 267, ax.left, ax.left + 183, 18.5, { rot: -18, dx: 4, dy: 24 })
  label(svg, ax.title, ax.titleX - 2, 157, 20, { rot: -90, anchor: "middle" })
  bracket(svg, ax.c0, ax.c1, 61, "***", 17, 2, 2.5)
}

function drawHeat(svg: Sel, hm: any) {
  const color = d3.scaleLinear<string>().domain([-1, 0, 1]).range(["#6FA8D0", "#FFFFFF", "#FB7868"])
  const x = d3.scaleBand<string>().domain(hm.genes).range([hm.left, hm.right]).padding(.055)
  const y = d3.scaleBand<string>().domain(hm.genes).range([1383, 1899.4]).padding(.07)
  hm.genes.forEach((rowName: string, i: number) => {
    const g = svg.append("g")
    g.selectAll("rect").data(hm.cor[i] as number[]).enter().append("rect")
      .attr("x", (_, j) => x(hm.genes[j]) as number).attr("y", y(rowName) as number)
      .attr("width", x.bandwidth()).attr("height", y.bandwidth()).attr("fill", d => color(d))
    g.selectAll("text").data(hm.cor[i] as number[]).enter().append("text").text("**")
      .attr("x", (_, j) => (x(hm.genes[j]) as number) + x.bandwidth() / 2)
      .attr("y", (y(rowName) as number) + y.bandwidth() / 2 + 14)
      .attr("text-anchor", "middle").attr("font-family", FONT).attr("font-size", 29).attr("fill", "#111")
    label(svg, rowName, hm.left - 11, (y(rowName) as number) + y.bandwidth() / 2 + 8, 23, { anchor: "end" })
    label(svg, rowName, (x(rowName) as number) + x.bandwidth() / 2 + 1, 1373, 23, { rot: -45, italic: hm.italic })
  })
  const lg = svg.append("g").attr("clip-path", hm.clip ? `url(#${hm.clip})` : null)
  label(lg, "* p < 0.05", hm.lx + 6, 1482, 23)
  label(lg, "** p < 0.01", hm.lx, 1531, 23)
  label(lg, "Correlation", hm.lx, 1579, 23)
  const gid = "heat" + hm.clip
  const grad = svg.append("defs").append("linearGradient").attr("id", gid).attr("x1", 0).attr("x2", 0).attr("y1", 1).attr("y2", 0)
  const barY = lin(-1, 1791.6, 1, 1597)
  d3.range(0, 1.001, .25).forEach(t => {
    const v = barY.invert(1801.4 + t * (1587 - 1801.4))
    grad.append("stop").attr("offset", t).attr("stop-color", color(Math.max(-1, Math.min(1, v))))
  })
  svg.append("rect").attr("x", hm.lx).attr("width", hm.barW).attr("y", 1587).attr("height", 214.4).attr("fill", `url(#${gid})`)
  heatTicks.forEach(t => {
    lg.append("path").attr("d", `M${hm.lx},${barY(t)}h5M${hm.lx + hm.barW - 5},${barY(t)}h5`).attr("stroke", "#fff").attr("stroke-width", 1)
    label(lg, t.toFixed(1), hm.lx + hm.barW + 12, barY(t) + 7.5, 21)
  })
}

function drawViolins(svg: Sel, v: any) {
  const y = lin(v.t1[0], v.t1[1], 0, v.t0)
  const w = d3.scaleLinear().domain([0, 1]).range([0, 38])
  const x = d3.scalePoint<string>().domain(["Low risk group", "High risk group"]).range([v.c0, v.c1])
  const top = v.row === 0 ? 1917 : 2204.5
  const bot = v.row === 0 ? 2136.8 : 2423.9
  ;[[v.low, v.c0, "#E29A8E", v.med[0]], [v.high, v.c1, "#7EB8DE", v.med[1]]].forEach(([prof, c, fill, med]: any) => {
    const area = d3.area<number[]>().y(d => y(d[0])).x0(d => c - w(d[1])).x1(d => c + w(d[1])).curve(d3.curveMonotoneY)
    svg.append("path").attr("d", area(prof)).attr("fill", fill).attr("stroke", "#111").attr("stroke-width", 1.3)
    svg.append("line").attr("x1", c - 10).attr("x2", c + 10).attr("y1", y(med)).attr("y2", y(med)).attr("stroke", "#111").attr("stroke-width", 2)
    svg.append("ellipse").attr("cx", c).attr("cy", y(med)).attr("rx", 4.4).attr("ry", 3.9).attr("fill", "#fff").attr("stroke", "#111").attr("stroke-width", .8)
  })
  leftAxis(svg, v.left, y, v.ticks, top, bot, 18, { tick: 4 })
  bottomAxis(svg, x, bot, v.left, v.right, 18.5, { rot: -18, dx: 4, dy: 22, tick: 5 })
  label(svg, v.title, v.titleX, v.row === 0 ? 2027 : 2314, 19, { rot: -90, anchor: "middle" })
  bracket(svg, v.c0, v.c1, v.row === 0 ? 1930.7 : 2217.4, "***", 17, 2.5, 3)
}

export default function App() {
  const svgRef = useRef<SVGSVGElement>(null)

  useEffect(() => {
    if (!svgRef.current) return
    const svg = d3.select(svgRef.current)
    svg.selectAll("*").remove()

    panelLetter(svg, "A", 0, 42)
    panelLetter(svg, "B", 836, 42)
    panelLetter(svg, "C", 2, 396)
    panelLetter(svg, "D", 0, 882)
    panelLetter(svg, "E", 5, 1345)
    panelLetter(svg, "G", 840, 1345)
    panelLetter(svg, "F", 8, 1942)
    panelLetter(svg, "H", 841, 1932)

    // A
    drawScatter(svg, { left: 85, y: lin(2000, 56.7, -2000, 259.3), ticks: [-2000, -1000, 0, 1000, 2000], loose: stromalLoose, cloud: stromalCloud, fit: stromalFit, title: "Stromal score", titleX: 20.6, r: "-0.389" })
    drawScatter(svg, { left: 367, y: lin(3000, 72.7, -1000, 237.3), ticks: [-1000, 0, 1000, 2000, 3000], loose: immuneLoose, cloud: immuneCloud, fit: immuneFit, title: "Immune score", titleX: 301, r: "-0.452" })
    drawScatter(svg, { left: 648, y: lin(4000, 78.7, -2000, 231.7), ticks: [-2000, 0, 2000, 4000], loose: estimateLoose, cloud: estimateCloud, fit: estimateFit, title: "ESTIMATE score", titleX: 584, r: "-0.485" })

    // B
    drawBoxPanel(svg, { left: 930, c0: 980, c1: 1063, y: lin(2000, 69.3, -2000, 254), ticks: [-2000, -1000, 0, 1000, 2000], boxes: stromalBoxes, out: stromalOut, title: "Stromal score", titleX: 866 })
    drawBoxPanel(svg, { left: 1212, c0: 1261.4, c1: 1344.3, y: lin(3000, 84.7, -1000, 233.7), ticks: [-1000, 0, 1000, 2000, 3000], boxes: immuneBoxes, out: immuneOut, title: "Immune score", titleX: 1147 })
    drawBoxPanel(svg, { left: 1493, c0: 1542.7, c1: 1625.6, y: lin(4000, 89.7, -2000, 229), ticks: [-2000, 0, 2000, 4000], boxes: estimateBoxes, out: estimateOut, title: "ESTIMATE score", titleX: 1429 })

    // C
    const cSx = 1.3
    const cx = d3.scalePoint<string>().domain(lolliNames).range([170.2, 1544.9])
    const cy = lin(.5, 390.7, -.5, 704)
    const pColor = d3.scaleLinear<string>().domain([0, .6]).range([RED, BLUE])
    const ry = d3.scaleSqrt().domain([0, .52]).range([1.85, 12.4])
    svg.append("path").attr("d", "M134.4,383.7H1580.7M134.4,725H1580.7").attr("stroke", "#000").attr("stroke-width", 2.4)
    svg.append("path").attr("d", "M134.4,383.7V725M1580.7,383.7V725").attr("stroke", "#000").attr("stroke-width", 1.4)
    const cAxis = leftAxis(svg, 134.4, cy, [-.5, -.25, 0, .25, .5], 383.7, 725, 21, { tick: 8, fmt: (d: number) => d.toFixed(2), sw: 1.4 })
    cAxis.selectAll("text").attr("x", -19 / cSx).attr("transform", `scale(${cSx},1)`)
    cAxis.selectAll("line").attr("stroke-width", 2)
    bottomAxis(svg, cx, 725, 134.4, 1580.7, 23.5, { rot: -29, dx: 11, dy: 24, sx: cSx, tick: 8 })
    svg.append("g").selectAll("line").data(lolliCor).enter().append("line")
      .attr("x1", (_, i) => cx(lolliNames[i]) as number).attr("x2", (_, i) => cx(lolliNames[i]) as number)
      .attr("y1", cy(0)).attr("y2", d => cy(d)).attr("stroke", "#000").attr("stroke-width", 1.6)
    svg.append("line").attr("x1", 134.4).attr("x2", 1580.7).attr("y1", cy(0)).attr("y2", cy(0)).attr("stroke", "#111").attr("stroke-width", 2.4)
    svg.append("g").selectAll("ellipse").data(lolliCor).enter().append("ellipse")
      .attr("cx", (_, i) => cx(lolliNames[i]) as number).attr("cy", d => cy(d))
      .attr("rx", d => ry(Math.abs(d)) * 1.33).attr("ry", d => ry(Math.abs(d)))
      .attr("fill", (_, i) => pColor(lolliP[i]))
    label(svg, "Correlation", 34, 554, 25, { rot: -90, anchor: "middle", sx: cSx })
    label(svg, "P value", 1593, 425, 21, { sx: cSx })
    const pY = lin(0, 543, .6, 435)
    const pGrad = svg.append("defs").append("linearGradient").attr("id", "pbar").attr("x1", 0).attr("x2", 0).attr("y1", 1).attr("y2", 0)
    pGrad.append("stop").attr("offset", 0).attr("stop-color", RED)
    pGrad.append("stop").attr("offset", 1).attr("stop-color", BLUE)
    svg.append("rect").attr("x", 1594).attr("y", 432).attr("width", 27).attr("height", 111).attr("fill", "url(#pbar)")
    pTicks.forEach(t => {
      if (t > 0) svg.append("path").attr("d", `M1594,${pY(t)}h5M1616,${pY(t)}h5`).attr("stroke", "#fff").attr("stroke-width", 1)
      label(svg, t.toFixed(1), 1634, pY(t) + 7.5, 21, { sx: cSx })
    })
    label(svg, "|Cor|", 1593, 577, 21, { sx: cSx })
    const corY = d3.scalePoint<number>().domain(corLegend).range([594, 688])
    corLegend.forEach(c => {
      svg.append("ellipse").attr("cx", 1610).attr("cy", corY(c) as number).attr("rx", ry(c) * 1.2).attr("ry", ry(c))
        .attr("fill", "#CCCCCC").attr("stroke", "#000").attr("stroke-width", 1.8)
      label(svg, String(c), 1637, (corY(c) as number) + 7.5, 21, { sx: cSx })
    })

    // D
    const dx = d3.scalePoint<string>().domain(cellNames).range([144.7, 1650])
    const dy = lin(.6, 907, 0, 1168)
    const dStyle = { wsk: 2, sw: 2, med: 3.4, rx: 3.2, ry: 2.6 }
    cellNames.forEach((n, i) => {
      const c = dx(n) as number
      drawBox(svg, c - 13.3, 26.5, highBoxes[i], highOut[i], dy, RED, dStyle)
      drawBox(svg, c + 13.3, 26.5, lowBoxes[i], lowOut[i], dy, BLUE, dStyle)
      if (cellSig[i]) bracket(svg, c - 13.3, c + 13.3, dy(cellBracket[i]), cellSig[i], 26, 5, 4, 2)
    })
    leftAxis(svg, 105.7, dy, [0, .2, .4, .6], 869, 1176, 26, { tick: 8, pad: 4 })
    bottomAxis(svg, dx, 1176, 105.7, 1690, 27, { rot: -29, dx: 11, dy: 27, tick: 8 })
    label(svg, "InfiltrationScore", 32, 1022, 29, { rot: -90, anchor: "middle" })
    ;[[687, RED, "High risk group", 710], [924, BLUE, "Low risk group", 947.6]].forEach(([kx, fill, name, tx]: any) => {
      svg.append("line").attr("x1", kx).attr("x2", kx).attr("y1", 838).attr("y2", 860).attr("stroke", "#111").attr("stroke-width", 1.6)
      svg.append("rect").attr("x", kx - 9).attr("y", 841.5).attr("width", 18).attr("height", 14).attr("fill", fill).attr("stroke", "#111").attr("stroke-width", 1.6)
      svg.append("line").attr("x1", kx - 9).attr("x2", kx + 9).attr("y1", 848.5).attr("y2", 848.5).attr("stroke", "#000").attr("stroke-width", 2.4)
      label(svg, name, tx, 858, 28)
    })

    // E, G
    svg.append("defs").append("clipPath").attr("id", "leftHeat").append("rect").attr("x", 0).attr("y", 1400).attr("width", 846).attr("height", 500)
    svg.append("defs").append("clipPath").attr("id", "rightHeat").append("rect").attr("x", 0).attr("y", 1400).attr("width", 1700).attr("height", 500)
    drawHeat(svg, { genes: immuneGenes, cor: immuneCor, left: 138.3, right: 727.4, italic: false, lx: 743, barW: 26.7, clip: "leftHeat" })
    drawHeat(svg, { genes: chemoGenes, cor: chemoCor, left: 971.5, right: 1560.7, italic: true, lx: 1576.5, barW: 27, clip: "rightHeat" })

    // F
    const y0 = 2131.2, y1 = 2418
    drawViolins(svg, { row: 0, left: 81.3, right: 290, c0: 138.2, c1: 233.6, t0: y0, t1: [60, 1927], ticks: [0, 10, 20, 30, 40, 50, 60], low: pdcd1Low, high: pdcd1High, med: [4.8, 2.4], title: "PDCD1", titleX: 42 })
    drawViolins(svg, { row: 0, left: 363, right: 571.8, c0: 420, c1: 515, t0: y0, t1: [80, 1930.3], ticks: [0, 20, 40, 60, 80], low: cd274Low, high: cd274High, med: [5, 3.9], title: "CD274", titleX: 325 })
    drawViolins(svg, { row: 0, left: 645, right: 850, c0: 702, c1: 796.7, t0: y0, t1: [60, 1946.6], ticks: [0, 20, 40, 60], low: ctla4Low, high: ctla4High, med: [5, 3], title: "CTLA4", titleX: 605 })
    drawViolins(svg, { row: 1, left: 91, right: 290, c0: 145.3, c1: 235.8, t0: y1, t1: [100, 2210], ticks: [0, 20, 40, 60, 80, 100], low: tigitLow, high: tigitHigh, med: [5.5, 3], title: "TIGIT", titleX: 42 })
    drawViolins(svg, { row: 1, left: 373, right: 571.8, c0: 426.6, c1: 517.6, t0: y1, t1: [200, 2226.7], ticks: [0, 50, 100, 150, 200], low: lag3Low, high: lag3High, med: [8, 5], title: "LAG3", titleX: 324 })
    drawViolins(svg, { row: 1, left: 645, right: 850, c0: 702.4, c1: 796.7, t0: y1, t1: [60, 2227.8], ticks: [0, 20, 40, 60], low: cd96Low, high: cd96High, med: [7, 3.8], title: "CD96", titleX: 605.4 })

    // H
    drawViolins(svg, { row: 0, left: 946.5, right: 1135.6, c0: 998, c1: 1084, t0: y0, t1: [1000, 1930.3], ticks: [0, 200, 400, 600, 800, 1000], low: ccl2Low, high: ccl2High, med: [55, 37], title: "CCL2", titleX: 889 })
    drawViolins(svg, { row: 0, left: 1207.7, right: 1417, c0: 1265.2, c1: 1360, t0: y0, t1: [80, 1937], ticks: [0, 20, 40, 60, 80], low: ccr4Low, high: ccr4High, med: [6, 3.3], title: "CCR4", titleX: 1170 })
    drawViolins(svg, { row: 0, left: 1509.6, right: 1700, c0: 1561, c1: 1646.8, t0: 2132, t1: [1500, 1955.1], ticks: [0, 500, 1000, 1500], low: cxcr4Low, high: cxcr4High, med: [165, 125], title: "CXCR4", titleX: 1451.6 })
    drawViolins(svg, { row: 1, left: 928, right: 1135.6, c0: 985, c1: 1079.8, t0: y1, t1: [30, 2228.5], ticks: [0, 10, 20, 30], low: cxcr2Low, high: cxcr2High, med: [.65, .45], title: "CXCR2", titleX: 889 })
    drawViolins(svg, { row: 1, left: 1209.3, right: 1418, c0: 1266.3, c1: 1361, t0: y1, t1: [60, 2236], ticks: [0, 20, 40, 60], low: ccr2Low, high: ccr2High, med: [6.5, 3.9], title: "CCR2", titleX: 1171 })
    drawViolins(svg, { row: 1, left: 1499.3, right: 1700, c0: 1554.6, c1: 1644.6, t0: y1, t1: [140, 2204.8], ticks: [0, 20, 40, 60, 80, 100, 120, 140], low: ccr5Low, high: ccr5High, med: [15, 8.5], title: "CCR5", titleX: 1451.6 })
  }, [])

  return (
    <svg
      ref={svgRef}
      width={1700}
      height={2480}
      viewBox="0 0 1700 2480"
      style={{ position: "absolute", left: 0, top: 0, background: "#fff" }}
      xmlns="http://www.w3.org/2000/svg"
    ></svg>
  )
}
